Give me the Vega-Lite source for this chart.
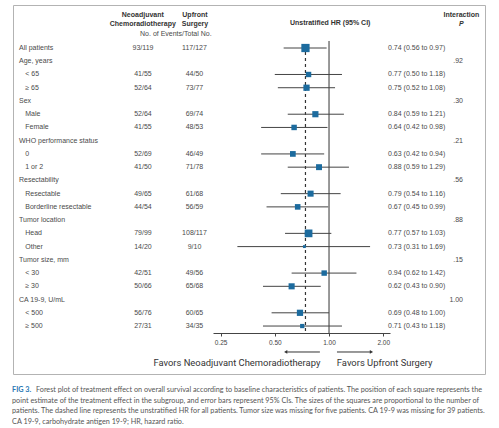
{
  "$schema": "https://vega.github.io/schema/vega-lite/v6.json",
  "width": 472,
  "height": 369,
  "autosize": {"type": "none"},
  "padding": {"left": 13, "top": 5, "right": 14, "bottom": 54},
  "background": "white",
  "config": {
    "view": {"stroke": "#b3b3b3", "strokeWidth": 1},
    "font": "Liberation Sans",
    "text": {"font": "Liberation Sans", "fontSize": 7, "color": "#4a4a4a", "baseline": "middle"}
  },
  "datasets": {
    "rows": [
      {"row": 0, "label": "All patients", "level": "head", "neo": "93/119", "up": "117/127", "hr": 0.74, "lo": 0.56, "hi": 0.97, "n": 246, "ci": "0.74 (0.56 to 0.97)"},
      {"row": 1, "label": "Age, years", "level": "head", "p": ".92"},
      {"row": 2, "label": "< 65", "level": "sub", "neo": "41/55", "up": "44/50", "hr": 0.77, "lo": 0.50, "hi": 1.18, "n": 105, "ci": "0.77 (0.50 to 1.18)"},
      {"row": 3, "label": "≥ 65", "level": "sub", "neo": "52/64", "up": "73/77", "hr": 0.75, "lo": 0.52, "hi": 1.08, "n": 141, "ci": "0.75 (0.52 to 1.08)"},
      {"row": 4, "label": "Sex", "level": "head", "p": ".30"},
      {"row": 5, "label": "Male", "level": "sub", "neo": "52/64", "up": "69/74", "hr": 0.84, "lo": 0.59, "hi": 1.21, "n": 138, "ci": "0.84 (0.59 to 1.21)"},
      {"row": 6, "label": "Female", "level": "sub", "neo": "41/55", "up": "48/53", "hr": 0.64, "lo": 0.42, "hi": 0.98, "n": 108, "ci": "0.64 (0.42 to 0.98)"},
      {"row": 7, "label": "WHO performance status", "level": "head", "p": ".21"},
      {"row": 8, "label": "0", "level": "sub", "neo": "52/69", "up": "46/49", "hr": 0.63, "lo": 0.42, "hi": 0.94, "n": 118, "ci": "0.63 (0.42 to 0.94)"},
      {"row": 9, "label": "1 or 2", "level": "sub", "neo": "41/50", "up": "71/78", "hr": 0.88, "lo": 0.59, "hi": 1.29, "n": 128, "ci": "0.88 (0.59 to 1.29)"},
      {"row": 10, "label": "Resectability", "level": "head", "p": ".56"},
      {"row": 11, "label": "Resectable", "level": "sub", "neo": "49/65", "up": "61/68", "hr": 0.79, "lo": 0.54, "hi": 1.16, "n": 133, "ci": "0.79 (0.54 to 1.16)"},
      {"row": 12, "label": "Borderline resectable", "level": "sub", "neo": "44/54", "up": "56/59", "hr": 0.67, "lo": 0.45, "hi": 0.99, "n": 113, "ci": "0.67 (0.45 to 0.99)"},
      {"row": 13, "label": "Tumor location", "level": "head", "p": ".88"},
      {"row": 14, "label": "Head", "level": "sub", "neo": "79/99", "up": "108/117", "hr": 0.77, "lo": 0.57, "hi": 1.03, "n": 216, "ci": "0.77 (0.57 to 1.03)"},
      {"row": 15, "label": "Other", "level": "sub", "neo": "14/20", "up": "9/10", "hr": 0.73, "lo": 0.31, "hi": 1.69, "n": 30, "ci": "0.73 (0.31 to 1.69)"},
      {"row": 16, "label": "Tumor size, mm", "level": "head", "p": ".15"},
      {"row": 17, "label": "< 30", "level": "sub", "neo": "42/51", "up": "49/56", "hr": 0.94, "lo": 0.62, "hi": 1.42, "n": 107, "ci": "0.94 (0.62 to 1.42)"},
      {"row": 18, "label": "≥ 30", "level": "sub", "neo": "50/66", "up": "65/68", "hr": 0.62, "lo": 0.43, "hi": 0.90, "n": 134, "ci": "0.62 (0.43 to 0.90)"},
      {"row": 19, "label": "CA 19-9, U/mL", "level": "head", "p": "1.00"},
      {"row": 20, "label": "< 500", "level": "sub", "neo": "56/76", "up": "60/65", "hr": 0.69, "lo": 0.48, "hi": 1.00, "n": 141, "ci": "0.69 (0.48 to 1.00)"},
      {"row": 21, "label": "≥ 500", "level": "sub", "neo": "27/31", "up": "34/35", "hr": 0.71, "lo": 0.43, "hi": 1.18, "n": 66, "ci": "0.71 (0.43 to 1.18)"}
    ],
    "refs": [
      {"kind": "null", "hr": 1},
      {"kind": "overall", "hr": 0.74}
    ]
  },
  "resolve": {"scale": {"x": "independent"}},
  "layer": [
    {
      "layer": [
        {
          "data": {"name": "refs"},
          "transform": [{"filter": "datum.kind == 'null'"}],
          "mark": {"type": "rule", "color": "#333333", "strokeWidth": 1},
          "encoding": {
            "x": {"field": "hr", "type": "quantitative",
                  "scale": {"type": "log", "domain": [0.227, 2.18], "range": [200, 377], "nice": false},
                  "axis": {"values": [0.25, 0.5, 1, 2], "format": ".2f", "orient": "bottom", "offset": -41, "grid": false, "title": null,
                           "domainColor": "#444444", "tickColor": "#444444", "tickSize": 3, "labelFontSize": 6.5, "labelColor": "#444444",
                           "labelPadding": 3, "labelFont": "Liberation Sans"}},
            "y": {"datum": -0.53, "type": "quantitative", "scale": {"domain": [-3.248, 24.622], "reverse": true, "nice": false, "zero": false}, "axis": null},
            "y2": {"datum": 21.53}
          }
        },
        {
          "data": {"name": "refs"},
          "transform": [{"filter": "datum.kind == 'overall'"}],
          "mark": {"type": "rule", "color": "#333333", "strokeWidth": 1.2, "strokeDash": [3, 3]},
          "encoding": {
            "x": {"field": "hr", "type": "quantitative"},
            "y": {"datum": 0.3, "type": "quantitative"},
            "y2": {"datum": 21.53}
          }
        },
        {
          "data": {"name": "rows"},
          "transform": [{"filter": "isValid(datum.hr)"}],
          "mark": {"type": "rule", "color": "#444444", "strokeWidth": 1},
          "encoding": {
            "x": {"field": "lo", "type": "quantitative"},
            "x2": {"field": "hi"},
            "y": {"field": "row", "type": "quantitative"}
          }
        },
        {
          "data": {"name": "rows"},
          "transform": [{"filter": "isValid(datum.hr)"}],
          "mark": {"type": "point", "shape": "square", "filled": true, "color": "#1c6b9e", "opacity": 1},
          "encoding": {
            "x": {"field": "hr", "type": "quantitative"},
            "y": {"field": "row", "type": "quantitative"},
            "size": {"field": "n", "type": "quantitative", "scale": {"domain": [0, 246], "range": [0, 68]}, "legend": null}
          }
        },
        {
          "data": {"values": [{}]},
          "mark": {"type": "rule", "color": "#333333", "strokeWidth": 1},
          "encoding": {"x": {"datum": 0.89}, "x2": {"datum": 0.585}, "y": {"datum": 22.96}}
        },
        {
          "data": {"values": [{}]},
          "mark": {"type": "point", "shape": "triangle-left", "filled": true, "color": "#333333", "size": 14, "opacity": 1},
          "encoding": {"x": {"datum": 0.575}, "y": {"datum": 22.96}}
        },
        {
          "data": {"values": [{}]},
          "mark": {"type": "rule", "color": "#333333", "strokeWidth": 1},
          "encoding": {"x": {"datum": 1.107}, "x2": {"datum": 1.70}, "y": {"datum": 22.96}}
        },
        {
          "data": {"values": [{}]},
          "mark": {"type": "point", "shape": "triangle-right", "filled": true, "color": "#333333", "size": 14, "opacity": 1},
          "encoding": {"x": {"datum": 1.72}, "y": {"datum": 22.96}}
        },
        {
          "data": {"values": [{}]},
          "mark": {"type": "text", "align": "right", "font": "Roboto", "fontSize": 9.4, "color": "#333333"},
          "encoding": {"x": {"datum": 0.895}, "y": {"datum": 23.79}, "text": {"value": "Favors Neoadjuvant Chemoradiotherapy"}}
        },
        {
          "data": {"values": [{}]},
          "mark": {"type": "text", "align": "left", "font": "Roboto", "fontSize": 9.4, "color": "#333333"},
          "encoding": {"x": {"datum": 1.105}, "y": {"datum": 23.79}, "text": {"value": "Favors Upfront Surgery"}}
        }
      ]
    },
    {
      "data": {"name": "rows"},
      "transform": [{"filter": "datum.level == 'head'"}],
      "mark": {"type": "text", "align": "left"},
      "encoding": {
        "x": {"datum": 1.27, "type": "quantitative", "scale": {"domain": [0, 100], "nice": false}, "axis": null},
        "y": {"field": "row", "type": "quantitative"},
        "text": {"field": "label"}
      }
    },
    {
      "data": {"name": "rows"},
      "transform": [{"filter": "datum.level == 'sub'"}],
      "mark": {"type": "text", "align": "left"},
      "encoding": {
        "x": {"datum": 2.6, "type": "quantitative", "scale": {"domain": [0, 100], "nice": false}, "axis": null},
        "y": {"field": "row", "type": "quantitative"},
        "text": {"field": "label"}
      }
    },
    {
      "data": {"name": "rows"},
      "transform": [{"filter": "isValid(datum.neo)"}],
      "mark": {"type": "text", "align": "center"},
      "encoding": {
        "x": {"datum": 27.54, "type": "quantitative", "scale": {"domain": [0, 100], "nice": false}, "axis": null},
        "y": {"field": "row", "type": "quantitative"},
        "text": {"field": "neo"}
      }
    },
    {
      "data": {"name": "rows"},
      "transform": [{"filter": "isValid(datum.up)"}],
      "mark": {"type": "text", "align": "center"},
      "encoding": {
        "x": {"datum": 38.45, "type": "quantitative", "scale": {"domain": [0, 100], "nice": false}, "axis": null},
        "y": {"field": "row", "type": "quantitative"},
        "text": {"field": "up"}
      }
    },
    {
      "data": {"name": "rows"},
      "transform": [{"filter": "isValid(datum.ci)"}],
      "mark": {"type": "text", "align": "left"},
      "encoding": {
        "x": {"datum": 79.45, "type": "quantitative", "scale": {"domain": [0, 100], "nice": false}, "axis": null},
        "y": {"field": "row", "type": "quantitative"},
        "text": {"field": "ci"}
      }
    },
    {
      "data": {"name": "rows"},
      "transform": [{"filter": "isValid(datum.p)"}],
      "mark": {"type": "text", "align": "right"},
      "encoding": {
        "x": {"datum": 95.34, "type": "quantitative", "scale": {"domain": [0, 100], "nice": false}, "axis": null},
        "y": {"field": "row", "type": "quantitative"},
        "text": {"field": "p"}
      }
    },
    {
      "data": {"values": [{}]},
      "mark": {"type": "text", "align": "center", "fontWeight": "bold", "color": "#333333", "lineHeight": 9},
      "encoding": {
        "x": {"datum": 27.5, "type": "quantitative", "scale": {"domain": [0, 100], "nice": false}, "axis": null},
        "y": {"datum": -2.49, "type": "quantitative"},
        "text": {"value": ["Neoadjuvant", "Chemoradiotherapy"]}
      }
    },
    {
      "data": {"values": [{}]},
      "mark": {"type": "text", "align": "center", "fontWeight": "bold", "color": "#333333", "lineHeight": 9},
      "encoding": {
        "x": {"datum": 38.55, "type": "quantitative", "scale": {"domain": [0, 100], "nice": false}, "axis": null},
        "y": {"datum": -2.49, "type": "quantitative"},
        "text": {"value": ["Upfront", "Surgery"]}
      }
    },
    {
      "data": {"values": [{}]},
      "mark": {"type": "text", "align": "center"},
      "encoding": {
        "x": {"datum": 34.5, "type": "quantitative", "scale": {"domain": [0, 100], "nice": false}, "axis": null},
        "y": {"datum": -1.06, "type": "quantitative"},
        "text": {"value": "No. of Events/Total No."}
      }
    },
    {
      "data": {"values": [{}]},
      "mark": {"type": "text", "align": "center", "fontWeight": "bold", "color": "#333333"},
      "encoding": {
        "x": {"datum": 67.2, "type": "quantitative", "scale": {"domain": [0, 100], "nice": false}, "axis": null},
        "y": {"datum": -1.86, "type": "quantitative"},
        "text": {"value": "Unstratified HR (95% CI)"}
      }
    },
    {
      "data": {"values": [{}]},
      "mark": {"type": "text", "align": "center", "fontWeight": "bold", "color": "#333333"},
      "encoding": {
        "x": {"datum": 95.0, "type": "quantitative", "scale": {"domain": [0, 100], "nice": false}, "axis": null},
        "y": {"datum": -2.49, "type": "quantitative"},
        "text": {"value": "Interaction"}
      }
    },
    {
      "data": {"values": [{}]},
      "mark": {"type": "text", "align": "center", "fontWeight": "bold", "fontStyle": "italic", "color": "#333333"},
      "encoding": {
        "x": {"datum": 95.0, "type": "quantitative", "scale": {"domain": [0, 100], "nice": false}, "axis": null},
        "y": {"datum": -1.81, "type": "quantitative"},
        "text": {"value": "P"}
      }
    },
    {
      "data": {"values": [{}]},
      "mark": {"type": "text", "align": "left", "font": "Lato", "fontWeight": "bold", "fontSize": 7.25, "color": "#2a78b4"},
      "encoding": {
        "x": {"datum": -0.2, "type": "quantitative", "scale": {"domain": [0, 100], "nice": false}, "axis": null},
        "y": {"datum": 25.83, "type": "quantitative"},
        "text": {"value": "FIG 3."}
      }
    },
    {
      "data": {"values": [{}]},
      "mark": {"type": "text", "align": "left", "font": "Lato", "fontSize": 7.25, "color": "#555555"},
      "encoding": {
        "x": {"datum": 4.87, "type": "quantitative", "scale": {"domain": [0, 100], "nice": false}, "axis": null},
        "y": {"datum": 25.83, "type": "quantitative"},
        "text": {"value": "Forest plot of treatment effect on overall survival according to baseline characteristics of patients. The position of each square represents the"}
      }
    },
    {
      "data": {"values": [{}]},
      "mark": {"type": "text", "align": "left", "font": "Lato", "fontSize": 7.25, "color": "#555555", "lineHeight": 10.65},
      "encoding": {
        "x": {"datum": -0.2, "type": "quantitative", "scale": {"domain": [0, 100], "nice": false}, "axis": null},
        "y": {"datum": 26.64, "type": "quantitative"},
        "text": {"value": [
          "point estimate of the treatment effect in the subgroup, and error bars represent 95% CIs. The sizes of the squares are proportional to the number of",
          "patients. The dashed line represents the unstratified HR for all patients. Tumor size was missing for five patients. CA 19-9 was missing for 39 patients.",
          "CA 19-9, carbohydrate antigen 19-9; HR, hazard ratio."
        ]}
      }
    }
  ]
}
